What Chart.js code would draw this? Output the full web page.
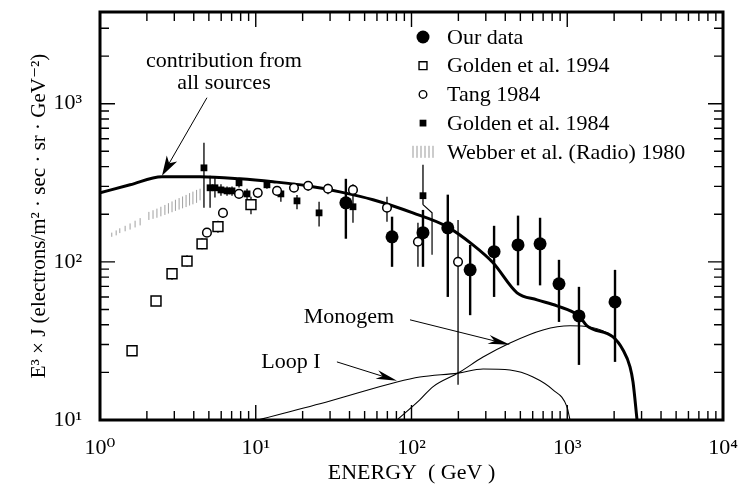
<!DOCTYPE html>
<html>
<head>
<meta charset="utf-8">
<script src="https://cdn.jsdelivr.net/npm/chart.js@4.4.0/dist/chart.umd.min.js"></script>
<style>
  html, body { margin: 0; padding: 0; background: #fff; }
</style>
</head>
<body>
<canvas id="chart" width="740" height="490"></canvas>
<script>
// energies in GeV, values are E^3 x J

// Our data (filled circles)
const ourE  = [37.9, 75, 118.5, 171, 238, 339, 483, 669, 885, 1189, 2026];
const ourV  = [236, 144, 153, 164, 89, 116, 128, 130, 72.6, 45.5, 55.8];
const ourLo = [140, 93, 93, 60, 46, 60, 71, 71, 41.7, 22.3, 23.3];
const ourHi = [335, 193, 213, 266, 128, 169, 196, 190, 103, 69.5, 89];

// Golden et al. 1994 (open squares)
const g94E  = [1.606, 2.289, 2.90, 3.62, 4.52, 5.72, 9.32];
const g94V  = [27.4, 56.6, 84, 101, 130, 167, 230];
const g94Lo = [26, 53, 77, 93, 120, 153, 200];
const g94Hi = [29, 60, 91, 110, 141, 182, 258];

// Tang 1984 (open circles)
const tangE  = [4.86, 6.16, 7.81, 10.3, 13.7, 17.6, 21.7, 29.1, 42.1, 69.6, 110, 199];
const tangV  = [153, 204, 269, 273, 281, 294, 303, 290, 285, 220, 134, 100];
const tangLo = [145, 190, 255, 258, 262, 275, 282, 268, 262, 179, 93, 16.7];
const tangHi = [162, 218, 283, 290, 300, 312, 325, 312, 310, 258, 177, 184];

// Golden et al. 1984 (small filled squares)
const g84E  = [4.65, 5.09, 5.47, 5.98, 6.54, 7.04, 7.81, 8.79, 11.8, 14.5, 18.4, 25.5, 42.1, 118.5];
const g84V  = [393, 294, 294, 285, 281, 281, 316, 269, 307, 269, 243, 204, 223, 262];
const g84Lo = [220, 220, 255, 262, 262, 262, 295, 235, 290, 240, 215, 167, 177, 230];
const g84Hi = [566, 350, 340, 310, 300, 300, 340, 290, 325, 285, 265, 240, 273, 411];
// offset error bar drawn beside the 118.5 GeV point
const g84LinkE = [118.5, 135.5, 135.5];
const g84LinkV = [230, 204, 111];

// Webber et al. (Radio) 1980 (hatched band)
const webE  = [1.19, 1.27, 1.34, 1.45, 1.56, 1.68, 1.81, 2.06, 2.19, 2.32, 2.46, 2.61, 2.75, 2.90, 3.05, 3.22, 3.39, 3.57, 3.76, 3.95, 4.17, 4.39];
const webV  = [148, 152, 157, 162, 167, 173, 179, 195, 199, 203, 208, 213, 218, 223, 228, 233, 238, 243, 249, 254, 260, 266];
const webLo = [144, 147, 152, 156, 160, 165, 170, 184, 187, 190, 194, 198, 202, 206, 210, 214, 218, 222, 227, 231, 236, 245];
const webHi = [153, 158, 163, 169, 175, 182, 189, 207, 212, 217, 223, 229, 235, 241, 247, 253, 259, 265, 272, 278, 285, 290];

// model curves
const allE  = [1.0, 1.56, 2.5, 4.39, 7.92, 12.9, 21.3, 34.7, 56.6, 102, 169, 248, 334, 476, 640, 859, 1189, 1339, 1967, 2280, 2529, 2644, 2806];
const allV  = [273, 307, 345, 345, 335, 321, 303, 277, 247, 204, 167, 128, 98.6, 63.7, 57.5, 52.7, 45.5, 39.4, 33.5, 27.7, 21.7, 17.4, 10];
const monoE = [80.7, 113, 137, 199, 288, 429, 699, 1042, 1400, 1967, 2280, 2529, 2644, 2806];
const monoV = [10, 13.4, 16.2, 19.8, 25.0, 30.7, 37.1, 39.4, 38.7, 33.5, 27.7, 21.7, 17.4, 10];
const loopE = [10.3, 30, 80.7, 113, 199, 288, 429, 603, 810, 996, 1042];
const loopV = [10, 13.2, 17.4, 18.7, 19.8, 21.0, 20.7, 18.7, 15.5, 12.1, 10];

const legendLabels = ['Our data', 'Golden et al. 1994', 'Tang 1984', 'Golden et al. 1984', 'Webber et al. (Radio) 1980'];

const FONT = "'Liberation Serif', 'DejaVu Serif', serif";
const sup = { '0': '\u2070', '1': '\u00b9', '2': '\u00b2', '3': '\u00b3', '4': '\u2074' };

function pts(xs, ys) {
    return xs.map((x, i) => ({ x: x, y: ys[i] }));
}
function isDecade(v) {
    const l = Math.log10(v);
    return Math.abs(l - Math.round(l)) < 1e-9;
}
function decadeLabel(v) {
    return isDecade(v) ? '10' + sup[String(Math.round(Math.log10(v)))] : '';
}

function arrow(ctx, x1, y1, x2, y2, len, w) {
    const a = Math.atan2(y2 - y1, x2 - x1);
    const c = Math.cos(a), s = Math.sin(a);
    const bx = x2 - len * c, by = y2 - len * s;
    ctx.beginPath();
    ctx.moveTo(x1, y1);
    ctx.lineTo(x2 - len * 0.7 * c, y2 - len * 0.7 * s);
    ctx.stroke();
    ctx.beginPath();
    ctx.moveTo(x2, y2);
    ctx.lineTo(bx + w / 2 * s, by - w / 2 * c);
    ctx.lineTo(x2 - len * 0.72 * c, y2 - len * 0.72 * s);
    ctx.lineTo(bx - w / 2 * s, by + w / 2 * c);
    ctx.closePath();
    ctx.fill();
}

// keep the plot box where the original has it
function fixBox(size, horizontal) {
    return s => {
        if (horizontal) s.height = size; else s.width = size;
        s.paddingTop = 0; s.paddingBottom = 0; s.paddingLeft = 0; s.paddingRight = 0;
    };
}

// error bars under the markers
const errorBars = {
    id: 'errorBars',
    beforeDatasetsDraw(chart) {
        const ctx = chart.ctx;
        const xs = chart.scales.x, ys = chart.scales.y;
        ctx.save();
        chart.data.datasets.forEach(ds => {
            if (!ds.errLo) return;
            ctx.strokeStyle = ds.errColor || '#000';
            ctx.lineWidth = ds.errWidth || 1.2;
            ds.data.forEach((p, i) => {
                const px = xs.getPixelForValue(p.x);
                ctx.beginPath();
                ctx.moveTo(px, ys.getPixelForValue(ds.errLo[i]));
                ctx.lineTo(px, ys.getPixelForValue(ds.errHi[i]));
                ctx.stroke();
            });
        });
        ctx.restore();
    }
};

// frame, inward ticks on four sides, legend and labels
const decor = {
    id: 'decor',
    afterDraw(chart) {
        const ctx = chart.ctx;
        const a = chart.chartArea;
        const xs = chart.scales.x, ys = chart.scales.y;
        ctx.save();
        ctx.strokeStyle = '#000';
        ctx.fillStyle = '#000';

        ctx.lineWidth = 1.4;
        xs.ticks.forEach(t => {
            const e = Math.floor(Math.log10(t.value) + 1e-9);
            const m = t.value / Math.pow(10, e);
            if (Math.abs(m - Math.round(m)) > 1e-6) return;
            const p = xs.getPixelForValue(t.value);
            if (p < a.left + 2 || p > a.right - 2) return;
            const len = Math.round(m) === 1 ? 15 : 9;
            ctx.beginPath();
            ctx.moveTo(p, a.bottom); ctx.lineTo(p, a.bottom - len);
            ctx.moveTo(p, a.top); ctx.lineTo(p, a.top + len);
            ctx.stroke();
        });
        ys.ticks.forEach(t => {
            const e = Math.floor(Math.log10(t.value) + 1e-9);
            const m = t.value / Math.pow(10, e);
            if (Math.abs(m - Math.round(m)) > 1e-6) return;
            const p = ys.getPixelForValue(t.value);
            if (p < a.top + 2 || p > a.bottom - 2) return;
            const len = Math.round(m) === 1 ? 15 : 9;
            ctx.beginPath();
            ctx.moveTo(a.left, p); ctx.lineTo(a.left + len, p);
            ctx.moveTo(a.right, p); ctx.lineTo(a.right - len, p);
            ctx.stroke();
        });

        ctx.lineWidth = 3;
        ctx.strokeRect(a.left, a.top, a.right - a.left, a.bottom - a.top);

        // legend
        const lx = a.right - 300, tx = a.right - 276;
        ctx.font = '22px ' + FONT;
        ctx.textBaseline = 'middle';
        ctx.textAlign = 'left';
        const H = Chart.helpers;
        legendLabels.forEach((label, i) => {
            const y = a.top + 25 + i * 28.7;
            ctx.fillStyle = '#000';
            ctx.fillText(label, tx, y + 1);
            ctx.lineWidth = 1.4;
            if (i === 0) {
                ctx.fillStyle = '#000';
                H.drawPoint(ctx, { pointStyle: 'circle', radius: 6.5, borderWidth: 0 }, lx, y);
            } else if (i === 1) {
                ctx.fillStyle = '#fff';
                H.drawPoint(ctx, { pointStyle: 'rect', radius: 5.6, borderWidth: 1.4 }, lx, y);
            } else if (i === 2) {
                ctx.fillStyle = '#fff';
                H.drawPoint(ctx, { pointStyle: 'circle', radius: 3.8, borderWidth: 1.4 }, lx, y);
            } else if (i === 3) {
                ctx.fillStyle = '#000';
                H.drawPoint(ctx, { pointStyle: 'rect', radius: 4.8, borderWidth: 0 }, lx, y);
            } else {
                ctx.strokeStyle = '#999';
                ctx.lineWidth = 1;
                for (let k = 0; k < 6; k++) {
                    ctx.beginPath();
                    ctx.moveTo(lx - 10 + k * 4, y - 6);
                    ctx.lineTo(lx - 10 + k * 4, y + 6);
                    ctx.stroke();
                }
                ctx.strokeStyle = '#000';
            }
        });

        // annotations
        ctx.fillStyle = '#000';
        ctx.textAlign = 'center';
        const X = v => xs.getPixelForValue(v), Y = v => ys.getPixelForValue(v);
        ctx.fillText('contribution from', X(6.25), Y(1845));
        ctx.fillText('all sources', X(6.25), Y(1339));
        ctx.fillText('Monogem', X(39.7), Y(44.9));
        ctx.fillText('Loop I', X(16.8), Y(23.3));
        ctx.lineWidth = 1;
        arrow(ctx, X(4.86), Y(1091), X(2.5), Y(350), 20, 12);
        arrow(ctx, X(97.8), Y(43), X(429), Y(29.9), 22, 9);
        arrow(ctx, X(33.2), Y(23.3), X(80.7), Y(17.7), 21, 9);
        ctx.restore();
    }
};

const tickFont = { family: FONT, size: 22, lineHeight: 1 };

new Chart(document.getElementById('chart'), {
    type: 'scatter',
    data: {
        datasets: [
            {
                label: 'Our data', data: pts(ourE, ourV), errLo: ourLo, errHi: ourHi, errWidth: 2.4,
                pointStyle: 'circle', pointRadius: 6.5, backgroundColor: '#000', borderColor: '#000', borderWidth: 0
            },
            {
                label: 'Tang 1984', data: pts(tangE, tangV), errLo: tangLo, errHi: tangHi, errWidth: 1.3,
                pointStyle: 'circle', pointRadius: 4.3, backgroundColor: '#fff', borderColor: '#000', borderWidth: 1.5
            },
            {
                label: 'Golden et al. 1994', data: pts(g94E, g94V), errLo: g94Lo, errHi: g94Hi, errWidth: 1.3,
                pointStyle: 'rect', pointRadius: 7, backgroundColor: '#fff', borderColor: '#000', borderWidth: 1.5
            },
            {
                label: 'Golden et al. 1984', data: pts(g84E, g84V), errLo: g84Lo, errHi: g84Hi, errWidth: 1.3,
                pointStyle: 'rect', pointRadius: 4.8, backgroundColor: '#000', borderColor: '#000', borderWidth: 0
            },
            {
                label: 'Golden et al. 1984 bar', data: pts(g84LinkE, g84LinkV), showLine: true, pointRadius: 0,
                borderColor: '#000', borderWidth: 1.2, tension: 0
            },
            {
                label: 'Webber et al. (Radio) 1980', data: pts(webE, webV), errLo: webLo, errHi: webHi,
                errWidth: 1, errColor: '#a0a0a0', pointRadius: 0
            },
            {
                label: 'all sources', data: pts(allE, allV), showLine: true, pointRadius: 0,
                borderColor: '#000', borderWidth: 3, cubicInterpolationMode: 'monotone'
            },
            {
                label: 'Monogem', data: pts(monoE, monoV), showLine: true, pointRadius: 0,
                borderColor: '#000', borderWidth: 1.1, cubicInterpolationMode: 'monotone'
            },
            {
                label: 'Loop I', data: pts(loopE, loopV), showLine: true, pointRadius: 0,
                borderColor: '#000', borderWidth: 1.1, cubicInterpolationMode: 'monotone'
            }
        ]
    },
    options: {
        responsive: false,
        animation: false,
        layout: { padding: { left: 0, top: 12, right: 17, bottom: 0 } },
        plugins: { legend: { display: false }, tooltip: { enabled: false } },
        scales: {
            x: {
                type: 'logarithmic', min: 1, max: 10000,
                grid: { display: false }, border: { display: false },
                ticks: { autoSkip: false, maxRotation: 0, padding: 9, color: '#000', font: tickFont,
                         callback: v => decadeLabel(v) },
                title: { display: true, text: 'ENERGY  ( GeV )', color: '#000',
                         font: { family: FONT, size: 22 }, padding: { top: 0, bottom: 4 } },
                afterFit: fixBox(70, true)
            },
            y: {
                type: 'logarithmic', min: 10, max: 3800,
                grid: { display: false }, border: { display: false },
                ticks: { autoSkip: false, padding: 10, color: '#000', font: tickFont,
                         callback: v => decadeLabel(v) },
                title: { display: true, text: 'E\u00b3 \u00d7 J (electrons/m\u00b2 \u00b7 sec \u00b7 sr \u00b7 GeV\u207b\u00b2)', color: '#000',
                         font: { family: FONT, size: 21 }, padding: { top: 27, bottom: 0 } },
                afterFit: fixBox(100, false)
            }
        }
    },
    plugins: [errorBars, decor]
});
</script>
</body>
</html>
